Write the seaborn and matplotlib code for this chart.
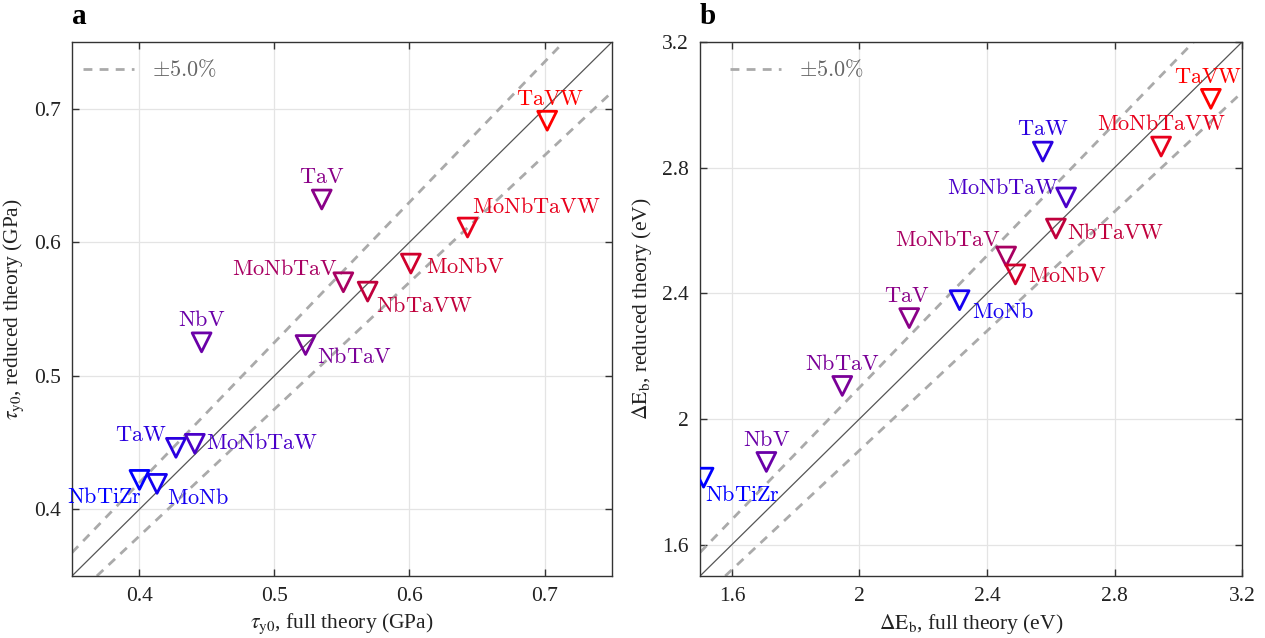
import numpy as np
import pandas as pd
import matplotlib
matplotlib.use("Agg")
import matplotlib.pyplot as plt
import seaborn as sns

# ---------------- data ----------------
alloys = ["NbTiZr", "MoNb", "TaW", "MoNbTaW", "NbV", "NbTaV", "TaV",
          "MoNbTaV", "NbTaVW", "MoNbV", "MoNbTaVW", "TaVW"]
colors = ["#0000ff", "#1500f0", "#2a00e0", "#4a00c8", "#6a00a8", "#7a0098",
          "#8a0088", "#a80062", "#c0003c", "#d0002c", "#e8001c", "#ff0000"]

tau_full = [0.400, 0.413, 0.427, 0.441, 0.446, 0.523, 0.535,
            0.551, 0.569, 0.601, 0.643, 0.702]
tau_reduced = [0.422, 0.419, 0.446, 0.449, 0.525, 0.523, 0.632,
               0.570, 0.563, 0.584, 0.611, 0.691]

eb_full = [1.511, 2.314, 2.575, 2.648, 1.708, 1.946, 2.156,
           2.460, 2.616, 2.489, 2.946, 3.102]
eb_reduced = [1.813, 2.378, 2.851, 2.705, 1.863, 2.105, 2.321,
              2.517, 2.606, 2.460, 2.867, 3.019]

tau_ticks = [0.4, 0.5, 0.6, 0.7]
eb_ticks = [1.6, 2.0, 2.4, 2.8, 3.2]
eb_ticklabels = ["1.6", "2", "2.4", "2.8", "3.2"]
tol = 0.05

# label placement (offset points dx, dy, ha, va)
place_a = {
    "NbTiZr": (2, -6, "right", "top"), "MoNb": (7, -4, "left", "top"),
    "TaW": (-7, 1, "right", "bottom"), "MoNbTaW": (8, 0, "left", "center"),
    "NbV": (0, 8, "center", "bottom"), "NbTaV": (8, -2, "left", "top"),
    "TaV": (0, 8, "center", "bottom"), "MoNbTaV": (-4, 2, "right", "bottom"),
    "NbTaVW": (6, -4, "left", "top"), "MoNbV": (11, -3, "left", "center"),
    "MoNbTaVW": (3, 7, "left", "bottom"), "TaVW": (2, 8, "center", "bottom"),
}
place_b = {
    "NbTiZr": (1, -6, "left", "top"), "MoNb": (9, -2, "left", "top"),
    "TaW": (0, 8, "center", "bottom"), "MoNbTaW": (-5, -1, "right", "bottom"),
    "NbV": (0, 8, "center", "bottom"), "NbTaV": (0, 8, "center", "bottom"),
    "TaV": (-2, 8, "center", "bottom"), "MoNbTaV": (-4, 4, "right", "bottom"),
    "NbTaVW": (8, -4, "left", "center"), "MoNbV": (9, -2, "left", "center"),
    "MoNbTaVW": (0, 8, "center", "bottom"), "TaVW": (-2, 8, "center", "bottom"),
}

# ---------------- style ----------------
sns.set_theme(style="white")
plt.rcParams["font.family"] = ["Liberation Serif", "DejaVu Serif"]
plt.rcParams["mathtext.fontset"] = "stix"
plt.rcParams["axes.edgecolor"] = "#333333"
plt.rcParams["axes.linewidth"] = 1.0

fig = plt.figure(figsize=(12.65, 6.38), dpi=100)
ax_a = fig.add_axes([0.0569, 0.0972, 0.4269, 0.837])
ax_b = fig.add_axes([0.5534, 0.0972, 0.4285, 0.837])

palette = dict(zip(alloys, colors))


def draw(ax, xs, ys, lims, ticks, ticklabels, xlabel, ylabel, place, letter,
         leg_x):
    df = pd.DataFrame({"alloy": alloys, "x": xs, "y": ys})
    ax.set_xlim(*lims)
    ax.set_ylim(*lims)
    ax.grid(True, color="#e4e4e4", linewidth=0.9, zorder=0)
    ax.set_axisbelow(True)
    ax.axline((0, 0), slope=1.0, color="#555555", lw=0.9, zorder=1)
    ax.axline((0, 0), slope=1 + tol, color="#aaaaaa", lw=2.0,
              ls=(0, (3.2, 2.6)), zorder=1, label=r"$\pm5.0\%$")
    ax.axline((0, 0), slope=1 - tol, color="#aaaaaa", lw=2.0,
              ls=(0, (3.2, 2.6)), zorder=1)
    sns.scatterplot(data=df, x="x", y="y", hue="alloy", palette=palette,
                    marker="v", s=185, linewidth=2.0, legend=False, ax=ax,
                    zorder=3)
    coll = ax.collections[-1]
    fc = coll.get_facecolors()
    coll.set_edgecolors(fc)
    coll.set_facecolors("none")
    for name, x, y, c in zip(alloys, xs, ys, colors):
        dx, dy, ha, va = place[name]
        t = ax.annotate(r"$\mathrm{%s}$" % name, (x, y), xytext=(dx, dy),
                        textcoords="offset points", ha=ha, va=va,
                        color=c, fontsize=16, zorder=4)
        t.set_math_fontfamily("cm")
    ax.set_xticks(ticks)
    ax.set_yticks(ticks)
    ax.set_xticklabels(ticklabels)
    ax.set_yticklabels(ticklabels)
    ax.tick_params(direction="in", length=5, width=1.0, top=True, right=True,
                   bottom=True, left=True, labelsize=15.5, colors="#333333",
                   labelcolor="#222222", pad=8)
    ax.set_xlabel(xlabel, fontsize=15.5, color="#222222", labelpad=4)
    ax.set_ylabel(ylabel, fontsize=15.5, color="#222222", labelpad=6)
    leg = ax.legend(loc="upper left", bbox_to_anchor=(leg_x, 1.0),
                    frameon=False, fontsize=16,
                    handlelength=2.3, handletextpad=0.8,
                    borderaxespad=0.4, labelcolor="#666666")
    for txt in leg.get_texts():
        txt.set_math_fontfamily("cm")
    for s in ax.spines.values():
        s.set_visible(True)
        s.set_color("#333333")
    ax.text(0.0, 1.022, letter, transform=ax.transAxes, fontsize=21,
            fontweight="bold", ha="left", va="bottom", color="black")


draw(ax_a, tau_full, tau_reduced, (0.35, 0.75), tau_ticks,
     [f"{v:.1f}" for v in tau_ticks],
     r"$\tau_{\mathrm{y0}}$, full theory (GPa)",
     r"$\tau_{\mathrm{y0}}$, reduced theory (GPa)", place_a, "a", -0.012)
draw(ax_b, eb_full, eb_reduced, (1.5, 3.2), eb_ticks, eb_ticklabels,
     r"$\Delta\mathrm{E}_{\mathrm{b}}$, full theory (eV)",
     r"$\Delta\mathrm{E}_{\mathrm{b}}$, reduced theory (eV)", place_b, "b",
     0.022)

fig.savefig("out.png", dpi=100)
